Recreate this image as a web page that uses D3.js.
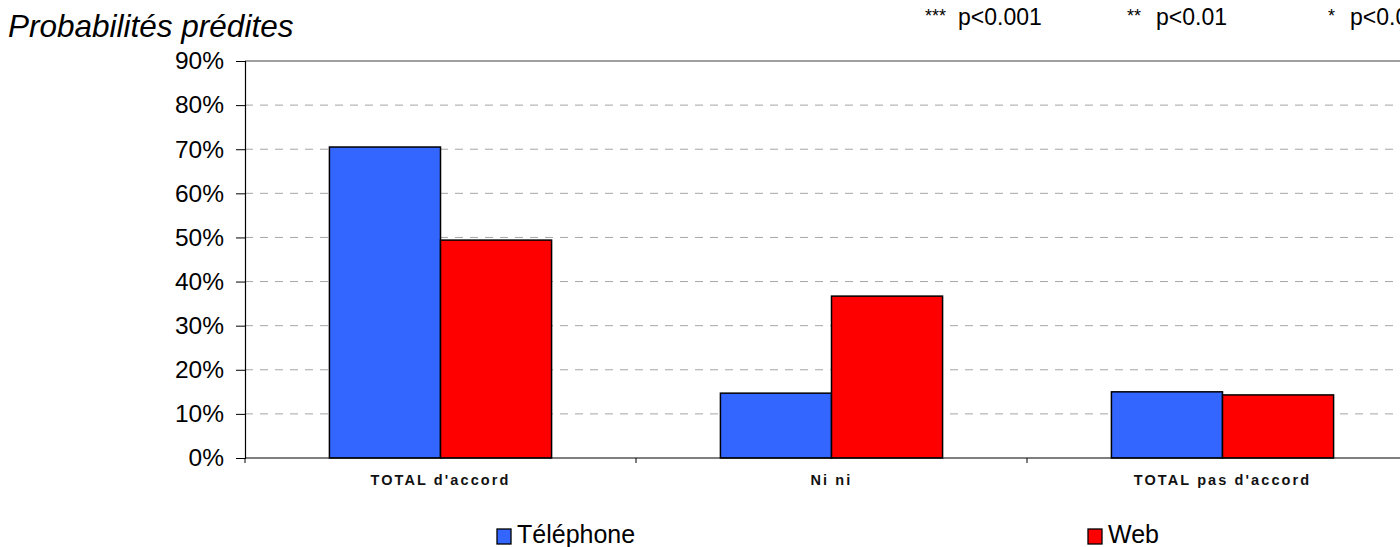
<!DOCTYPE html>
<html>
<head>
<meta charset="utf-8">
<script src="https://cdn.jsdelivr.net/npm/d3@7"></script>
<style>
  body { margin: 0; background: #fff; overflow: hidden; }
  svg { font-family: "Liberation Sans", Arial, sans-serif; }
</style>
</head>
<body>
<svg id="chart" width="1400" height="547"></svg>
<script>
// data
const categories = ["TOTAL d'accord", "Ni ni", "TOTAL pas d'accord"];
const seriesNames = ["Téléphone", "Web"];
const telephone = [0.705, 0.147, 0.150];
const web = [0.494, 0.367, 0.143];
const yTicks = [0, 0.1, 0.2, 0.3, 0.4, 0.5, 0.6, 0.7, 0.8, 0.9];
const sigStars = ["***", "**", "*"];
const sigLabels = ["p<0.001", "p<0.01", "p<0.05"];

const colors = { "Téléphone": "#3366ff", "Web": "#ff0000" };

const svg = d3.select('#chart');
const plotLeft = 245, plotRight = 1418, plotTop = 61, plotBottom = 458;

const x = d3.scaleBand()
  .domain(categories)
  .range([plotLeft, plotRight])
  .paddingInner(0)
  .paddingOuter(0);

const xInner = d3.scaleBand()
  .domain(seriesNames)
  .range([0, x.bandwidth()])
  .paddingOuter(0.76)
  .paddingInner(0);

const y = d3.scaleLinear().domain([0, 0.9]).range([plotBottom, plotTop]);

// gridlines
svg.append('g')
  .selectAll('line')
  .data(yTicks.filter(d => d > 0 && d < 0.9))
  .join('line')
    .attr('x1', plotLeft).attr('x2', plotRight)
    .attr('y1', d => y(d)).attr('y2', d => y(d))
    .attr('stroke', '#a6a6a6')
    .attr('stroke-dasharray', '8,7');

// top border
svg.append('line')
  .attr('x1', plotLeft).attr('x2', plotRight)
  .attr('y1', y(0.9)).attr('y2', y(0.9))
  .attr('stroke', '#808080').attr('stroke-width', 1.5);

// bars
const rows = categories.map((c, i) => ({ cat: c, values: [
  { name: "Téléphone", v: telephone[i] },
  { name: "Web", v: web[i] }
]}));

const group = svg.append('g').selectAll('g')
  .data(rows)
  .join('g')
    .attr('transform', d => `translate(${x(d.cat)},0)`);

group.selectAll('rect')
  .data(d => d.values)
  .join('rect')
    .attr('x', d => xInner(d.name))
    .attr('y', d => y(d.v))
    .attr('width', xInner.bandwidth())
    .attr('height', d => y(0) - y(d.v))
    .attr('fill', d => colors[d.name])
    .attr('stroke', '#000')
    .attr('stroke-width', 1.5);

// y axis
const yAxis = svg.append('g')
  .attr('transform', `translate(${plotLeft},0)`)
  .call(d3.axisLeft(y).tickValues(yTicks).tickFormat(d3.format('.0%')).tickSize(9).tickPadding(12));
yAxis.select('.domain').attr('stroke', '#000').attr('stroke-width', 1.2);
yAxis.selectAll('.tick line').attr('stroke', '#000');
yAxis.selectAll('text')
  .attr('font-size', 24.5)
  .attr('fill', '#000')
  .attr('font-family', '"Liberation Sans", Arial, sans-serif');

// x axis
const xAxis = svg.append('g').attr('transform', `translate(0,${plotBottom})`);
xAxis.append('line')
  .attr('x1', plotLeft).attr('x2', plotRight)
  .attr('stroke', '#000').attr('stroke-width', 1.2);
xAxis.selectAll('.xtick')
  .data(categories.map(c => x(c)).concat([plotRight]))
  .join('line')
    .attr('class', 'xtick')
    .attr('x1', d => d).attr('x2', d => d)
    .attr('y1', 0).attr('y2', 5)
    .attr('stroke', '#000');
xAxis.selectAll('text')
  .data(categories)
  .join('text')
    .attr('x', d => x(d) + x.bandwidth() / 2)
    .attr('y', 27)
    .attr('text-anchor', 'middle')
    .attr('font-size', 14.5)
    .attr('font-weight', 'bold')
    .attr('letter-spacing', 2.1)
    .attr('fill', '#111')
    .text(d => d);

// title
svg.append('text')
  .attr('x', 8).attr('y', 37)
  .attr('font-size', 31.5)
  .attr('font-style', 'italic')
  .text('Probabilités prédites');

// significance labels
const starX = [925, 1127, 1328];
const pX = [958, 1156, 1350];
sigLabels.forEach((s, i) => {
  svg.append('text')
    .attr('x', starX[i]).attr('y', 22)
    .attr('font-size', 18)
    .text(sigStars[i]);
  svg.append('text')
    .attr('x', pX[i]).attr('y', 25)
    .attr('font-size', 23)
    .text(s);
});

// legend
const legendX = [497, 1088];
seriesNames.forEach((n, i) => {
  svg.append('rect')
    .attr('x', legendX[i]).attr('y', 529)
    .attr('width', 14).attr('height', 15)
    .attr('fill', colors[n])
    .attr('stroke', '#000').attr('stroke-width', 1.3);
  svg.append('text')
    .attr('x', legendX[i] + 20).attr('y', 543)
    .attr('font-size', 25)
    .text(n);
});
</script>
</body>
</html>
